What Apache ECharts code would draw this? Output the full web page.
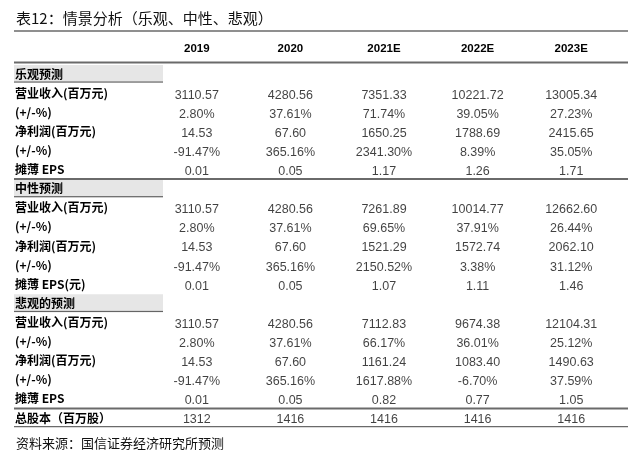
<!DOCTYPE html>
<html>
<head>
    <meta charset="utf-8">
    <title>情景分析</title>
    <script src="https://cdn.jsdelivr.net/npm/echarts@6/dist/echarts.min.js"></script>
</head>
<body style="margin:0;background:#fff;">
<div id="main" style="width: 640px;height:455px;"></div>
<script type="text/javascript">
    // 表头
    var years = ['2019', '2020', '2021E', '2022E', '2023E'];

    // 乐观预测
    var optRevenue = [3110.57, 4280.56, 7351.33, 10221.72, 13005.34];
    var optRevenueGrowth = [2.80, 37.61, 71.74, 39.05, 27.23];
    var optProfit = [14.53, 67.60, 1650.25, 1788.69, 2415.65];
    var optProfitGrowth = [-91.47, 365.16, 2341.30, 8.39, 35.05];
    var optEps = [0.01, 0.05, 1.17, 1.26, 1.71];

    // 中性预测
    var midRevenue = [3110.57, 4280.56, 7261.89, 10014.77, 12662.60];
    var midRevenueGrowth = [2.80, 37.61, 69.65, 37.91, 26.44];
    var midProfit = [14.53, 67.60, 1521.29, 1572.74, 2062.10];
    var midProfitGrowth = [-91.47, 365.16, 2150.52, 3.38, 31.12];
    var midEps = [0.01, 0.05, 1.07, 1.11, 1.46];

    // 悲观的预测
    var pesRevenue = [3110.57, 4280.56, 7112.83, 9674.38, 12104.31];
    var pesRevenueGrowth = [2.80, 37.61, 66.17, 36.01, 25.12];
    var pesProfit = [14.53, 67.60, 1161.24, 1083.40, 1490.63];
    var pesProfitGrowth = [-91.47, 365.16, 1617.88, -6.70, 37.59];
    var pesEps = [0.01, 0.05, 0.82, 0.77, 1.05];

    // 总股本
    var shares = [1312, 1416, 1416, 1416, 1416];

    function num(v) { return v.toFixed(2); }
    function pct(v) { return v.toFixed(2) + '%'; }
    function int(v) { return String(v); }

    // 行：名称, 数据, 格式
    var rows = [
        ['乐观预测', null],
        ['营业收入(百万元)', optRevenue, num],
        ['(+/-%)', optRevenueGrowth, pct],
        ['净利润(百万元)', optProfit, num],
        ['(+/-%)', optProfitGrowth, pct],
        ['摊薄 EPS', optEps, num],
        ['中性预测', null],
        ['营业收入(百万元)', midRevenue, num],
        ['(+/-%)', midRevenueGrowth, pct],
        ['净利润(百万元)', midProfit, num],
        ['(+/-%)', midProfitGrowth, pct],
        ['摊薄 EPS(元)', midEps, num],
        ['悲观的预测', null],
        ['营业收入(百万元)', pesRevenue, num],
        ['(+/-%)', pesRevenueGrowth, pct],
        ['净利润(百万元)', pesProfit, num],
        ['(+/-%)', pesProfitGrowth, pct],
        ['摊薄 EPS', pesEps, num],
        ['总股本（百万股）', shares, int]
    ];

    var rowNames = [];
    var cells = [];
    var sectionRows = [];
    for (var r = 0; r < rows.length; r++) {
        rowNames.push(rows[r][0]);
        if (!rows[r][1]) {
            sectionRows.push(r);
            continue;
        }
        for (var c = 0; c < years.length; c++) {
            cells.push({ value: [c, r], name: rows[r][2](rows[r][1][c]) });
        }
    }

    var myChart = echarts.init(document.getElementById('main'));

    var option = {
        backgroundColor: '#fff',
        animation: false,
        title: [{
            text: '表12：情景分析（乐观、中性、悲观）',
            left: 11,
            top: 6,
            textStyle: { fontFamily: 'Noto Sans CJK SC', fontSize: 15, fontWeight: 'normal', color: '#111' }
        }, {
            text: '资料来源：国信证券经济研究所预测',
            left: 11,
            top: 432,
            textStyle: { fontFamily: 'Noto Sans CJK SC', fontSize: 13, fontWeight: 'normal', color: '#111' }
        }],
        grid: { left: 150, right: 22, top: 64.4, bottom: 27.4 },
        xAxis: {
            type: 'category',
            position: 'top',
            data: years,
            axisLine: { show: false },
            axisTick: { show: false },
            splitLine: { show: false },
            axisLabel: {
                margin: 10,
                fontFamily: 'Liberation Sans',
                fontWeight: 'bold',
                fontSize: 11.5,
                color: '#000'
            }
        },
        yAxis: {
            type: 'category',
            inverse: true,
            data: rowNames,
            axisLine: { show: false },
            axisTick: { show: false },
            splitLine: { show: false },
            axisLabel: {
                align: 'left',
                margin: 135,
                fontFamily: 'Noto Sans CJK SC',
                fontWeight: 'bold',
                fontSize: 12,
                color: '#000'
            }
        },
        series: [{
            type: 'scatter',
            symbolSize: 0,
            data: cells,
            label: {
                show: true,
                position: 'inside',
                offset: [0, 2],
                formatter: '{b}',
                fontFamily: 'Liberation Sans',
                fontSize: 12.5,
                color: '#111'
            },
            z: 5
        }]
    };

    myChart.setOption(option);

    // 表格线和分组底色
    var rowY = function (i) { return myChart.convertToPixel({ yAxisIndex: 0 }, i); };
    var half = (rowY(1) - rowY(0)) / 2;
    var x0 = 14, x1 = 628, bandRight = 163;
    var lineColor = '#6a6a6a';
    var gfx = [];

    function rule(y, w) {
        gfx.push({
            type: 'line',
            shape: { x1: x0, y1: y, x2: x1, y2: y },
            style: { stroke: lineColor, lineWidth: w },
            z: 1
        });
    }

    sectionRows.forEach(function (r) {
        var top = rowY(r) - half + 0.5;
        var bottom = rowY(r) + half - 0.5;
        gfx.push({
            type: 'rect',
            shape: { x: x0, y: top, width: bandRight - x0, height: bottom - top },
            style: { fill: '#e6e6e6' },
            z: 0
        });
        gfx.push({
            type: 'line',
            shape: { x1: x0, y1: bottom - 1, x2: bandRight, y2: bottom - 1 },
            style: { stroke: '#555', lineWidth: 1 },
            z: 1
        });
    });

    rule(rowY(0) - 43, 1.5);
    rule(rowY(0) - half - 2, 2);
    rule((rowY(5) + rowY(6)) / 2, 2);
    rule((rowY(17) + rowY(18)) / 2, 2);
    rule(rowY(18) + half - 1, 1.2);

    myChart.setOption({ graphic: gfx });
</script>
</body>
</html>
